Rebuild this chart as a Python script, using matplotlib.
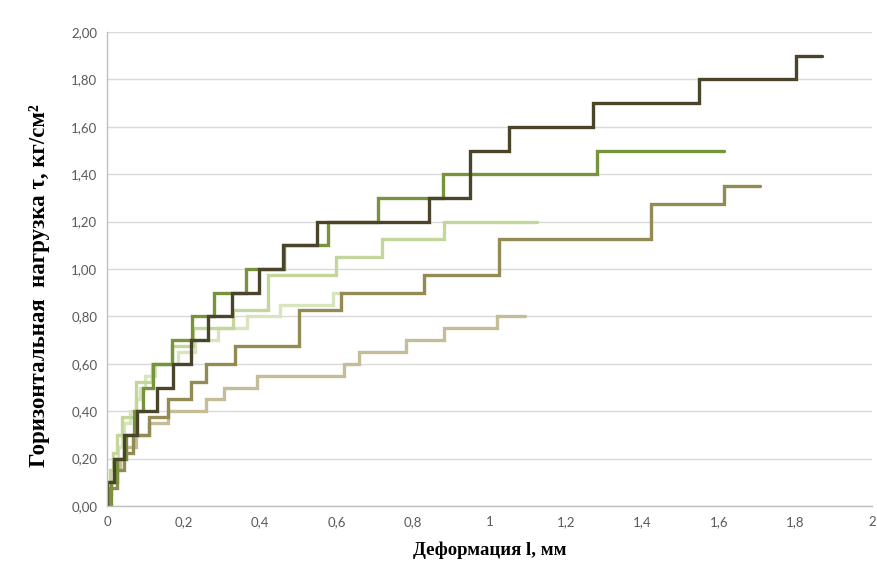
import numpy as np
import matplotlib
matplotlib.use('Agg')
import matplotlib.pyplot as plt
from matplotlib.ticker import FuncFormatter, MultipleLocator

# нагрузки (кг/см2) и деформация начала каждой ступени (мм), последняя точка - конец опыта
dark_load = [0.1, 0.2, 0.3, 0.4, 0.5, 0.6, 0.7, 0.8, 0.9, 1.0, 1.1, 1.2, 1.3, 1.5, 1.6, 1.7, 1.8, 1.9]
dark_def = [0.0, 0.019, 0.044, 0.078, 0.13, 0.173, 0.219, 0.265, 0.328, 0.398, 0.461, 0.55,
            0.842, 0.949, 1.051, 1.271, 1.548, 1.801]
dark_end = 1.87

green_load = [0.1, 0.2, 0.3, 0.4, 0.5, 0.6, 0.7, 0.8, 0.9, 1.0, 1.1, 1.2, 1.3, 1.4, 1.5]
green_def = [0.01, 0.027, 0.05, 0.07, 0.095, 0.121, 0.169, 0.221, 0.279, 0.363, 0.462, 0.579,
             0.709, 0.879, 1.28]
green_end = 1.613

light_load = [0.075, 0.15, 0.225, 0.3, 0.375, 0.525, 0.6, 0.675, 0.75, 0.825, 0.975, 1.05, 1.125, 1.2]
light_def = [0.0, 0.008, 0.015, 0.025, 0.038, 0.077, 0.117, 0.17, 0.226, 0.33, 0.422, 0.599,
             0.718, 0.881]
light_end = 1.123

pale_load = [0.1, 0.15, 0.2, 0.25, 0.3, 0.35, 0.4, 0.45, 0.5, 0.55, 0.6, 0.65, 0.7, 0.75, 0.8, 0.85, 0.9]
pale_def = [0.005, 0.012, 0.02, 0.028, 0.038, 0.045, 0.06, 0.075, 0.085, 0.1, 0.125, 0.186,
            0.23, 0.29, 0.365, 0.452, 0.592]
pale_end = 0.62

olive_load = [0.075, 0.15, 0.225, 0.3, 0.375, 0.45, 0.525, 0.6, 0.675, 0.825, 0.9, 0.975, 1.125, 1.275, 1.35]
olive_def = [0.005, 0.025, 0.045, 0.069, 0.111, 0.159, 0.219, 0.26, 0.335, 0.503, 0.613, 0.829,
             1.026, 1.421, 1.613]
olive_end = 1.707

tan_load = [0.05, 0.1, 0.15, 0.2, 0.25, 0.3, 0.35, 0.4, 0.45, 0.5, 0.55, 0.6, 0.65, 0.7, 0.75, 0.8]
tan_def = [0.0, 0.01, 0.02, 0.035, 0.05, 0.075, 0.11, 0.16, 0.26, 0.306, 0.391, 0.62, 0.66,
           0.782, 0.881, 1.02]
tan_end = 1.093


def step_path(loads, defs, end):
    """Ступенчатая кривая: подъём нагрузки при постоянной деформации, затем рост деформации"""
    xs = [defs[0]]
    ys = [0.0]
    for i, load in enumerate(loads):
        xs.append(defs[i])
        ys.append(load)
        nxt = defs[i + 1] if i + 1 < len(defs) else end
        xs.append(nxt)
        ys.append(load)
    return np.array(xs), np.array(ys)


series = [
    (pale_load, pale_def, pale_end, '#d7e4bd'),
    (light_load, light_def, light_end, '#c3d69b'),
    (tan_load, tan_def, tan_end, '#c4bd97'),
    (olive_load, olive_def, olive_end, '#948a54'),
    (green_load, green_def, green_end, '#77933c'),
    (dark_load, dark_def, dark_end, '#4a452a'),
]

fig = plt.figure(figsize=(8.78, 5.72), dpi=100)
ax = fig.add_axes([107 / 878, 66 / 572, 765 / 878, 474 / 572])

for loads, defs, end, color in series:
    x, y = step_path(loads, defs, end)
    ax.plot(x, y, color=color, linewidth=2.4, solid_joinstyle='miter', solid_capstyle='round')

ax.set_xlim(0, 2)
ax.set_ylim(0, 2)
ax.xaxis.set_major_locator(MultipleLocator(0.2))
ax.yaxis.set_major_locator(MultipleLocator(0.2))
ax.xaxis.set_major_formatter(FuncFormatter(lambda v, p: f'{v:g}'.replace('.', ',')))
ax.yaxis.set_major_formatter(FuncFormatter(lambda v, p: f'{v:.2f}'.replace('.', ',')))

ax.grid(axis='y', color='#d9d9d9', linewidth=1.0)
ax.set_axisbelow(True)
for side in ['top', 'right']:
    ax.spines[side].set_visible(False)
for side in ['left', 'bottom']:
    ax.spines[side].set_color('#bfbfbf')
    ax.spines[side].set_linewidth(1.0)

ax.tick_params(length=0, labelsize=9.5, labelcolor='#595959', pad=7)
for lbl in ax.get_xticklabels() + ax.get_yticklabels():
    lbl.set_family('Lato')

ax.set_xlabel('Деформация l, мм', family='Liberation Serif', fontweight='bold',
              fontsize=13.5, labelpad=10)
ax.set_ylabel('Горизонтальная  нагрузка τ, кг/см²', family='Liberation Serif',
              fontweight='bold', fontsize=16.5)
ax.yaxis.set_label_coords(-0.074, 0.465)

fig.savefig('out.png', dpi=100)
